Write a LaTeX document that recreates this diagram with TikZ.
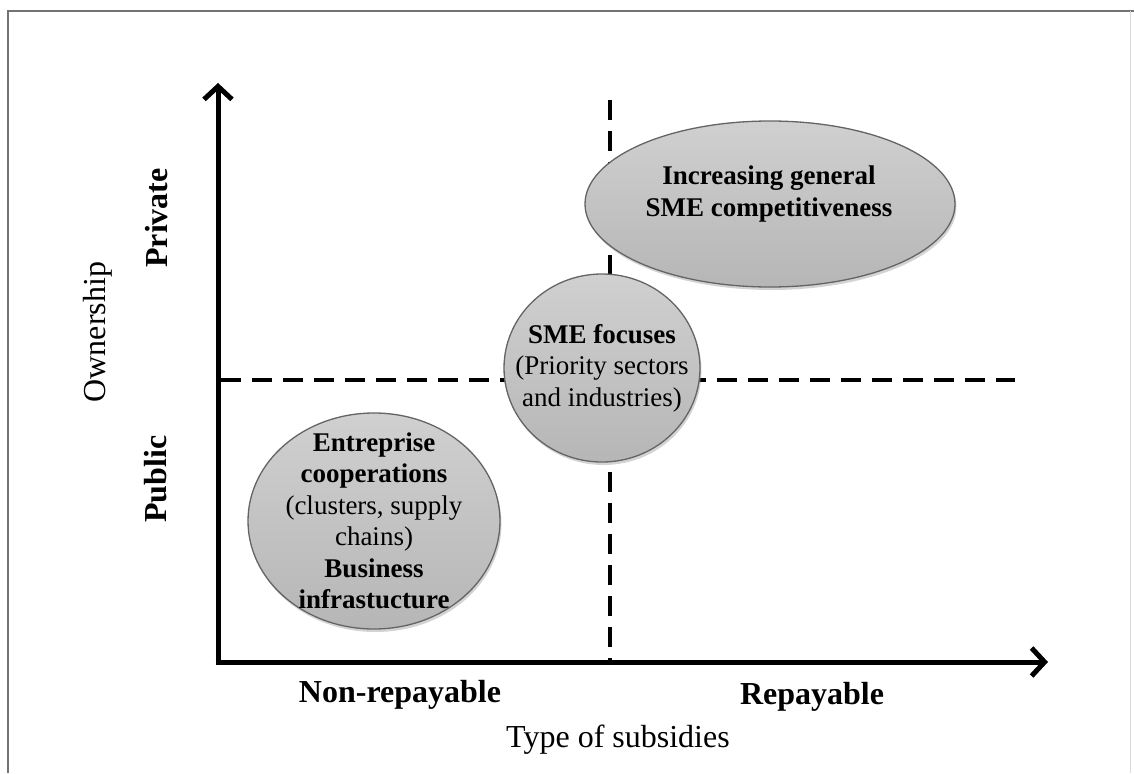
\documentclass[tikz,border=0pt]{standalone}
\usepackage{fontspec}
\setmainfont{Liberation Serif}
\usepackage{tikz}
\usetikzlibrary{arrows.meta}
\usetikzlibrary{shapes.geometric}
\usetikzlibrary{shadows}

\definecolor{bubbletop}{RGB}{208,208,208}
\definecolor{bubblebot}{RGB}{182,182,182}
\definecolor{bubblerim}{RGB}{100,100,100}

\tikzset{
	bubble/.style={ellipse, draw=bubblerim, line width=1.3pt, top color=bubbletop, bottom color=bubblebot,
		drop shadow={shadow xshift=1.5pt, shadow yshift=-3pt, opacity=0.35}, inner sep=0pt},
	bubbletext/.style={align=center, inner sep=0pt, font=\fontsize{27}{31.5}\selectfont},
	axis/.style={line width=5pt, -{Straight Barb[length=13pt, width=28pt]}},
	quarter/.style={line width=4pt, dash pattern=on 20pt off 11pt},
	axislabel/.style={font=\fontsize{32}{36}\selectfont}
}

\begin{document}
	\begin{tikzpicture}[x=1pt, y=-1pt]
		\useasboundingbox (0,0) rectangle (1134,773);
		% frame
		\draw[black!55, line width=1.3pt] (8,773) -- (8,11) -- (1134,11);
		\draw[black!15, line width=1pt] (1130,11) -- (1130,773);

		\coordinate (O) at (218,662);
		\coordinate (ytip) at (218,83);
		\coordinate (xtip) at (1048,662);
		\coordinate (hl) at (221,380);
		\coordinate (hr) at (1015,380);
		\coordinate (vt) at (610,100);
		\coordinate (vb) at (610,660);

		\draw[quarter] (hl) -- (hr);
		\draw[quarter] (vt) -- (vb);
		\draw[axis] ([yshift=-2.5pt]O) -- (ytip);
		\draw[axis] ([xshift=-2.5pt]O) -- (xtip);

		\node[axislabel, rotate=90] (own) at (98,332) {Ownership};
		\node[axislabel, rotate=90] (priv) at (157,218) {\textbf{Private}};
		\node[axislabel, rotate=90] (pub) at (156,479) {\textbf{Public}};
		\node[axislabel] (nonrep) at (400,695) {\textbf{Non-repayable}};
		\node[axislabel] (rep) at (812,697) {\textbf{Repayable}};
		\node[axislabel] (type) at (618,740) {Type of subsidies};

		\node[bubble, minimum width=370pt, minimum height=166pt] (comp) at (770,204) {};
		\node[bubbletext] (comptext) at (769,194) {\textbf{Increasing general}\\\textbf{SME competitiveness}};

		\node[bubble, minimum width=196pt, minimum height=188pt] (sme) at (602,368) {};
		\node[bubbletext] (smetext) at (sme.center) {\textbf{SME focuses}\\(Priority sectors\\and industries)};

		\node[bubble, minimum width=252pt, minimum height=216pt] (coop) at (374,521) {};
		\node[bubbletext] (cooptext) at (coop.center) {\textbf{Entreprise}\\\textbf{cooperations}\\(clusters, supply\\chains)\\\textbf{Business}\\\textbf{infrastucture}};
	\end{tikzpicture}
\end{document}
